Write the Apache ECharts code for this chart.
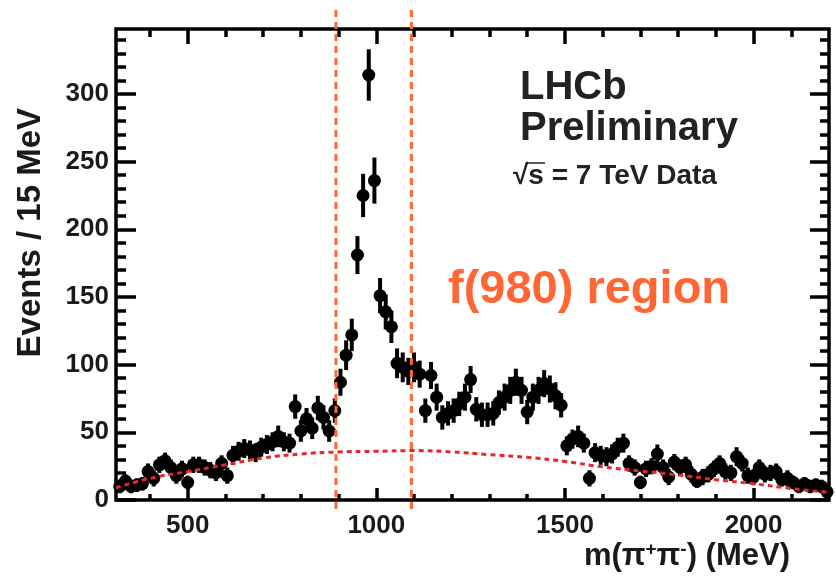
<!DOCTYPE html>
<html><head><meta charset="utf-8">
<script src="https://cdn.jsdelivr.net/npm/echarts@6/dist/echarts.min.js"></script>
<style>html,body{margin:0;padding:0;background:#fff}#c{width:836px;height:578px}</style>
</head><body><div id="c"></div>
<script>
// ---- data ----
const masses = [320,335,350,365,380,395,410,425,440,455,470,485,500,515,530,545,560,575,590,605,620,635,650,665,680,695,710,725,740,755,770,785,800,815,830,845,860,875,890,905,920,935,950,965,980,995,1010,1025,1040,1055,1070,1085,1100,1115,1130,1145,1160,1175,1190,1205,1220,1235,1250,1265,1280,1295,1310,1325,1340,1355,1370,1385,1400,1415,1430,1445,1460,1475,1490,1505,1520,1535,1550,1565,1580,1595,1610,1625,1640,1655,1670,1685,1700,1715,1730,1745,1760,1775,1790,1805,1820,1835,1850,1865,1880,1895,1910,1925,1940,1955,1970,1985,2000,2015,2030,2045,2060,2075,2090,2105,2120,2135,2150,2165,2180,2195];
const counts = [10,14,10,11,12,21,16,26,29,24,18,23,13,26,26,24,22,20,27,18,33,36,38,37,35,39,41,43,47,43,42,69,51,60,53,68,61,51,66,87,107,122,181,225,314,236,151,139,128,101,98,95,98,93,66,92,76,61,64,66,71,76,89,67,63,63,64,72,76,81,87,81,65,76,81,86,82,77,70,40,45,47,42,16,35,33,32,34,39,42,27,24,13,23,25,34,24,17,28,24,26,19,14,17,19,23,27,21,20,32,27,18,17,24,19,20,21,15,16,13,10,12,10,11,10,6];
const errors = [5,5,5,5,5,6,6,6,6,6,6,6,5,6,6,6,6,6,6,6,7,7,7,7,7,7,7,7,8,7,7,9,8,8,8,9,9,8,9,10,11,12,14,16,19,17,13,13,12,11,11,10,11,10,9,10,10,9,9,9,9,10,10,9,9,9,9,9,10,10,10,10,9,10,10,10,10,10,9,7,7,8,7,6,7,7,7,7,7,7,6,6,5,6,6,7,6,6,6,6,6,6,5,6,6,6,6,6,6,7,6,6,6,6,6,6,6,5,6,5,5,5,5,5,5,5];
const bkgMass = [310,400,500,600,700,800,900,1000,1100,1200,1300,1400,1500,1600,1700,1800,1900,2000,2100,2200];
const bkgValue = [9,16,21,26,31,34,35.5,36,36.5,35.5,33.5,31.5,28.5,24.5,21.5,18.5,15,12,8.5,5.5];
const regionEdges = [893,1093];
const xMajorTicks = [500,1000,1500,2000];
const xMinorTicks = [400,600,700,800,900,1100,1200,1300,1400,1600,1700,1800,1900,2100];
const yMajorTicks = [0,50,100,150,200,250,300];
const yMinorTicks = [10,20,30,40,60,70,80,90,110,120,130,140,160,170,180,190,210,220,230,240,260,270,280,290,310,320,330,340];
const xMin = 310, xMax = 2200, yMin = 0, yMax = 348;

const FONT = '"Liberation Sans", Arial, Helvetica, sans-serif';
const INK = '#1a1a1a';
const ORANGE = '#ff6633';
const RED = '#e8262a';

function xAx(pos, ticks, len, labels) {
  return {
    type: 'value', position: pos, min: xMin, max: xMax, gridIndex: 0,
    axisLine: {show: false, onZero: false},
    axisTick: {show: true, inside: true, length: len, customValues: ticks, lineStyle: {color: '#000', width: 3.5}},
    axisLabel: labels ? {show: true, customValues: ticks, margin: 13, color: INK, fontFamily: FONT, fontSize: 26, fontWeight: 'bold', formatter: v => String(v)} : {show: false},
    splitLine: {show: false}, minorTick: {show: false}, silent: true
  };
}
function yAx(pos, ticks, len, labels) {
  return {
    type: 'value', position: pos, min: yMin, max: yMax, gridIndex: 0,
    axisLine: {show: false, onZero: false},
    axisTick: {show: true, inside: true, length: len, customValues: ticks, lineStyle: {color: '#000', width: 3.5}},
    axisLabel: labels ? {show: true, customValues: ticks, margin: 7, color: INK, fontFamily: FONT, fontSize: 26, fontWeight: 'bold', formatter: v => String(v)} : {show: false},
    splitLine: {show: false}, minorTick: {show: false}, silent: true
  };
}

const points = masses.map((m, i) => [m, counts[i]]);
const bars = masses.map((m, i) => [m, counts[i] - errors[i], counts[i] + errors[i]]);
const bkg = bkgMass.map((m, i) => [m, bkgValue[i]]);

const chart = echarts.init(document.getElementById('c'), null, {renderer: 'canvas'});
chart.setOption({
  animation: false,
  backgroundColor: '#fff',
  grid: {left: 116, right: 7, top: 29, bottom: 78, show: true, borderColor: '#000', borderWidth: 3.5, backgroundColor: 'transparent'},
  xAxis: [xAx('bottom', xMajorTicks, 12, true), xAx('bottom', xMinorTicks, 6, false), xAx('top', xMajorTicks, 15, false), xAx('top', xMinorTicks, 8, false)],
  yAxis: [yAx('left', yMajorTicks, 20, true), yAx('left', yMinorTicks, 10, false), yAx('right', yMajorTicks, 19, false), yAx('right', yMinorTicks, 9, false)],
  series: [
    {
      type: 'custom', name: 'errors', xAxisIndex: 0, yAxisIndex: 0, z: 3,
      data: bars,
      renderItem: function (params, api) {
        const x = api.value(0);
        const lo = api.coord([x, Math.max(api.value(1), 0)]);
        const hi = api.coord([x, api.value(2)]);
        return {type: 'line', shape: {x1: lo[0], y1: lo[1], x2: hi[0], y2: hi[1]}, style: {stroke: '#000', lineWidth: 4}};
      }
    },
    {
      type: 'scatter', name: 'data', xAxisIndex: 0, yAxisIndex: 0, z: 4,
      data: points, symbol: 'circle', symbolSize: 13,
      itemStyle: {color: '#000', opacity: 1}
    },
    {
      type: 'line', name: 'background', xAxisIndex: 0, yAxisIndex: 0, z: 5,
      data: bkg, smooth: 0.5, showSymbol: false, symbol: 'none',
      lineStyle: {color: RED, width: 3, type: [5, 4]}
    },
    {
      type: 'custom', name: 'region', xAxisIndex: 0, yAxisIndex: 0, z: 6, clip: false,
      data: regionEdges.map(v => [v]),
      renderItem: function (params, api) {
        const x = api.value(0);
        const top = api.coord([x, yMax]);
        const bot = api.coord([x, yMin]);
        return {type: 'line', shape: {x1: top[0], y1: top[1] - 19, x2: bot[0], y2: bot[1] + 10},
          style: {stroke: ORANGE, lineWidth: 3, lineDash: [7, 5]}};
      }
    }
  ],
  graphic: [
    {type: 'text', x: 31, y: 108, rotation: Math.PI / 2,
     style: {text: 'Events / 15 MeV', fill: INK, font: 'bold 33px ' + FONT, align: 'right', verticalAlign: 'middle'}},
    {type: 'text', x: 790, y: 556,
     style: {text: 'm(π{s|+}π{s|-}) (MeV)', fill: INK, font: 'bold 31px ' + FONT, align: 'right', verticalAlign: 'middle',
       rich: {s: {fontSize: 19, fontWeight: 'bold', fontFamily: FONT, fill: INK, verticalAlign: 'top', padding: [0, 0, 10, 0]}}}},
    {type: 'text', x: 520, y: 88, style: {text: 'LHCb', fill: '#222', font: 'bold 40px ' + FONT, align: 'left', verticalAlign: 'middle'}},
    {type: 'text', x: 520, y: 129, style: {text: 'Preliminary', fill: '#222', font: 'bold 40px ' + FONT, align: 'left', verticalAlign: 'middle'}},
    {type: 'text', x: 513, y: 176, style: {text: '√s = 7 TeV Data', fill: '#222', font: 'bold 28px ' + FONT, align: 'left', verticalAlign: 'middle'}},
    {type: 'line', shape: {x1: 527, y1: 163, x2: 545, y2: 163}, style: {stroke: '#222', lineWidth: 1.5}},
    {type: 'text', x: 448, y: 290, style: {text: 'f(980) region', fill: ORANGE, font: 'bold 47px ' + FONT, align: 'left', verticalAlign: 'middle'}}
  ]
});
</script>
</body></html>
